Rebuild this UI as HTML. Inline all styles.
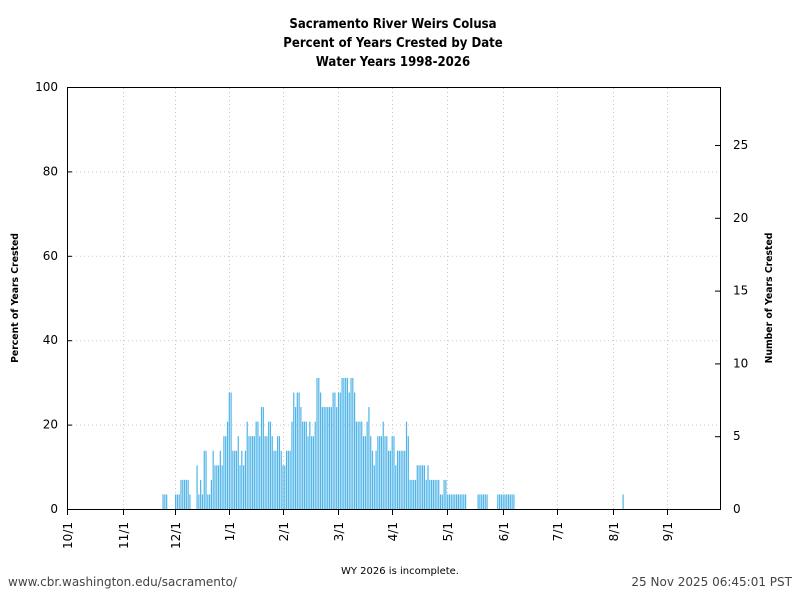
<!DOCTYPE html>
<html><head><meta charset="utf-8"><style>
body{margin:0;background:#fff;}
svg text{font-family:"DejaVu Sans","Liberation Sans",sans-serif;}
</style></head><body>
<svg id="s" width="800" height="600" xmlns="http://www.w3.org/2000/svg">
<rect width="800" height="600" fill="#fff"/>
<g font-weight="bold" font-size="13.5" text-anchor="middle" fill="#000">
<text transform="translate(393,28) scale(0.87,1)">Sacramento River Weirs Colusa</text>
<text transform="translate(393,47) scale(0.87,1)">Percent of Years Crested by Date</text>
<text transform="translate(393,66) scale(0.87,1)">Water Years 1998-2026</text>
</g>
<g id="grid" stroke="#c8c8c8" stroke-dasharray="1,3" stroke-width="1"></g>
<g id="bars" fill="#4fb4e8"></g>
<rect x="67.5" y="87.5" width="653" height="422" fill="none" stroke="#000" stroke-width="1"/>
<g id="ax" font-size="12" fill="#000"></g>
<text transform="translate(18,298) rotate(-90) scale(0.93,1)" font-size="10" font-weight="bold" text-anchor="middle">Percent of Years Crested</text>
<text transform="translate(772,298) rotate(-90) scale(0.93,1)" font-size="10" font-weight="bold" text-anchor="middle">Number of Years Crested</text>
<text x="400" y="574" font-size="10" text-anchor="middle">WY 2026 is incomplete.</text>
<text x="8" y="586" font-size="12" fill="#444">www.cbr.washington.edu/sacramento/</text>
<text x="792" y="586" font-size="12" fill="#444" text-anchor="end">25 Nov 2025 06:45:01 PST</text>
</svg>
<script>
var NS="http://www.w3.org/2000/svg";
function el(p,t,a,txt){var e=document.createElementNS(NS,t);for(var k in a)e.setAttribute(k,a[k]);if(txt!==undefined)e.textContent=txt;p.appendChild(e);return e;}
var g=document.getElementById('grid'),ax=document.getElementById('ax'),b=document.getElementById('bars');
var xt=[[67,'10/1'],[123,'11/1'],[175,'12/1'],[229,'1/1'],[283,'2/1'],[338,'3/1'],[392,'4/1'],[447,'5/1'],[503,'6/1'],[557,'7/1'],[613,'8/1'],[667,'9/1']];
xt.forEach(function(t){
 if(t[0]>67) el(g,'line',{x1:t[0]+.5,x2:t[0]+.5,y1:88,y2:509});
 el(ax,'line',{x1:t[0]+.5,x2:t[0]+.5,y1:509,y2:515,stroke:'#000'});
 el(ax,'text',{transform:'translate('+(t[0]+5)+',522) rotate(-90)','text-anchor':'end'},t[1]);
});
for(var i=0;i<=5;i++){var y=509-i*84.4;
 if(i>0&&i<5) el(g,'line',{x1:68,x2:720,y1:y+.5,y2:y+.5});
 el(ax,'line',{x1:67,x2:72,y1:y+.5,y2:y+.5,stroke:'#000'});
 el(ax,'text',{x:58,y:y+4,'text-anchor':'end'},String(i*20));}
for(var i=0;i<=25;i+=5){var y=509-i*14.56;
 el(ax,'line',{x1:715,x2:720,y1:y+.5,y2:y+.5,stroke:'#000'});
 el(ax,'text',{x:733,y:y+4},String(i));}
var seg=[[162,167,1],[176,180,1],[181,184,2],[185,188,2],[189,191,1],[196,197,3],[198,199,1],[200,201,2],[202,203,1],[204,207,4],[208,210,1],[211,212,2],[213,214,4],[215,216,3],[217,219,3],[220,221,4],[222,223,3],[224,226,5],[227,228,6],[229,232,8],[233,236,4],[237,238,5],[239,240,3],[241,242,4],[243,244,3],[245,246,4],[247,248,6],[249,250,5],[251,254,5],[255,256,6],[257,258,6],[259,260,5],[261,262,7],[263,264,7],[265,268,5],[269,270,6],[271,272,5],[273,274,4],[275,276,4],[277,280,5],[281,282,4],[283,284,3],[285,286,3],[287,288,4],[289,290,4],[291,292,6],[293,294,8],[295,296,7],[297,298,8],[299,300,8],[301,302,7],[303,305,6],[306,307,6],[308,309,5],[310,311,6],[312,313,5],[314,315,6],[316,319,9],[320,321,8],[322,331,7],[332,335,8],[336,337,7],[338,341,8],[342,347,9],[348,349,8],[350,353,9],[354,355,8],[356,363,6],[364,365,5],[366,367,6],[368,369,7],[370,371,5],[372,373,4],[374,375,3],[376,377,4],[378,381,5],[382,383,6],[384,387,5],[388,391,4],[392,395,5],[396,397,3],[398,405,4],[406,407,6],[408,409,5],[410,415,2],[416,425,3],[426,427,2],[428,429,3],[430,439,2],[440,443,1],[444,445,2],[446,447,2],[448,466,1],[478,488,1],[498,515,1],[622,624,1]];
function cnt(x){for(var i=0;i<seg.length;i++)if(x>=seg[i][0]-.5&&x<=seg[i][1]+.5)return seg[i][2];return 0;}
for(var d=0;d<365;d++){var x=67+d*1.79+0.6;var c=cnt(x+0.6);
 if(c>0){var h=c*14.56;el(b,'rect',{x:x.toFixed(2),y:(509-h).toFixed(2),width:1.2,height:h.toFixed(2)});}}
</script>
</body></html>
